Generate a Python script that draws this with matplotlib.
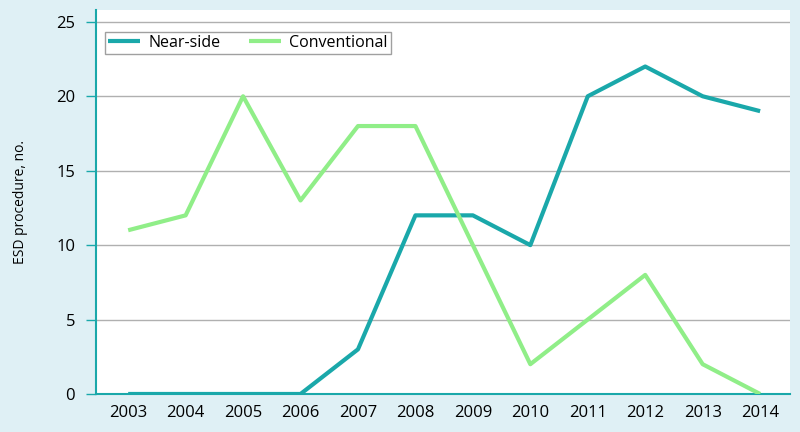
import matplotlib

matplotlib.use("Agg")
import matplotlib.pyplot as plt

years = ["2003", "2004", "2005", "2006", "2007", "2008",
         "2009", "2010", "2011", "2012", "2013", "2014"]
near_side = [0, 0, 0, 0, 3, 12, 12, 10, 20, 22, 20, 19]
conventional = [11, 12, 20, 13, 18, 18, 10, 2, 5, 8, 2, 0]
y_ticks = [0, 5, 10, 15, 20, 25]

BG = "#dff0f5"
TEAL = "#1aa8aa"
GREEN = "#90ee88"

plt.rcParams["font.family"] = ["Open Sans", "DejaVu Sans"]

fig = plt.figure(figsize=(8, 4.32), dpi=100, facecolor=BG)
ax = fig.add_axes([0.12, 0.088, 0.8675, 0.889])
ax.set_facecolor("white")

x = list(range(len(years)))
ax.plot(x, near_side, color=TEAL, lw=3, label="Near-side", solid_capstyle="butt", zorder=3)
ax.plot(x, conventional, color=GREEN, lw=3, label="Conventional", solid_capstyle="butt", zorder=3)

ax.set_xlim(-0.56, 11.52)
ax.set_ylim(0, 25.8)
ax.set_yticks(y_ticks)
ax.set_xticks(x)
ax.set_xticklabels(years)
ax.grid(axis="y", color="#b0b0b0", lw=1)
ax.set_axisbelow(True)

for side in ["top", "right"]:
    ax.spines[side].set_visible(False)
for side in ["left", "bottom"]:
    ax.spines[side].set_color(TEAL)
    ax.spines[side].set_linewidth(1.5)

ax.tick_params(axis="y", length=7, color=TEAL, width=1, labelsize=12, pad=8)
ax.tick_params(axis="x", length=0, labelsize=12, pad=8)
ax.set_ylabel("ESD procedure, no.", fontsize=10, labelpad=20)

leg = ax.legend(loc="upper left", ncol=2, bbox_to_anchor=(0.013, 0.943),
                frameon=True, fancybox=False, fontsize=11.5, handlelength=2.0,
                columnspacing=1.8, borderpad=0.2, handletextpad=0.5,
                borderaxespad=0)
leg.get_frame().set_edgecolor("#888888")
leg.get_frame().set_linewidth(1)

fig.savefig("out.png", dpi=100, facecolor=BG)
